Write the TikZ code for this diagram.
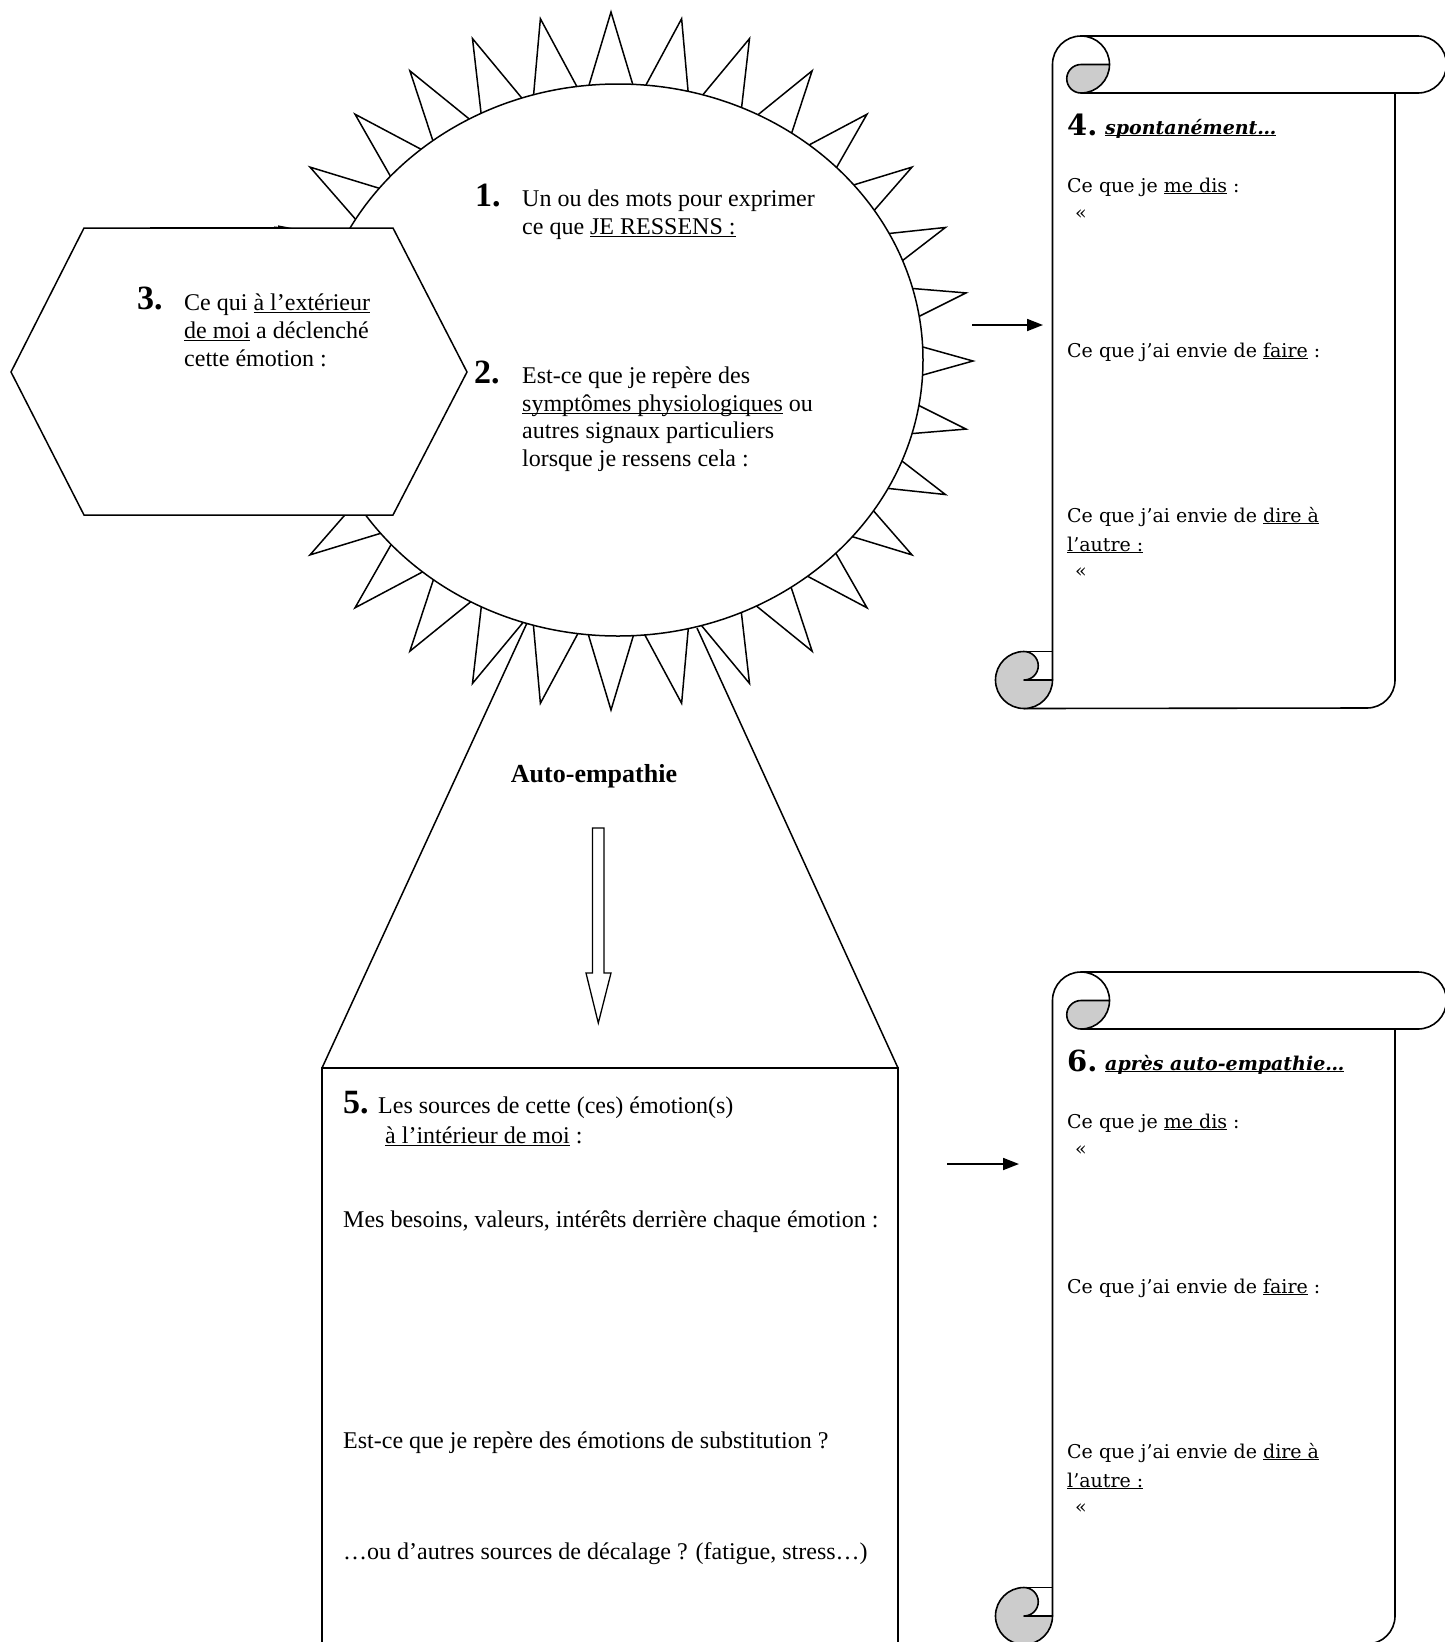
\documentclass[tikz,border=0pt]{standalone}
\usepackage{fontspec}
\setmainfont{Liberation Serif}
\newfontfamily\scrollfont{DejaVu Serif}
\usetikzlibrary{arrows.meta}
\newcommand\ulx[1]{\setbox0\hbox{#1}\rlap{\rule[-0.12em]{\wd0}{0.055em}}\box0\relax}
\newcommand\drawscroll[1]{%
\begin{scope}[shift={(0,#1)}]
  \draw[scrl] (1052.5,680) -- (1052.5,64.5) arc[start angle=180,end angle=270,radius=28.5]
     -- (1418,36) arc[start angle=270,end angle=450,radius=28.5] -- (1081,93);
  \draw[scrl,fill=black!20] (1081,64.5) -- (1109.5,64.5) arc[start angle=0,end angle=90,radius=28.5]
     arc[start angle=90,end angle=270,radius=14.25] -- cycle;
  \draw[scrl] (1081,36) arc[start angle=270,end angle=360,radius=28.5];
  \draw[scrl] (1395,93) -- (1395,680) arc[start angle=0,end angle=90,radius=28] -- (1024,708.5);
  \draw[scrl,fill=black!20] (1024,680) -- (1052.5,680) arc[start angle=0,end angle=270,radius=28.5]
     arc[start angle=270,end angle=450,radius=14.25] -- cycle;
  \draw[scrl] (1024,651.5) -- (1052.5,651.5);
\end{scope}}
\begin{document}
\begin{tikzpicture}[x=1pt,y=-1pt,
  shp/.style={draw=black,line width=1.5pt,fill=white,line join=miter},
  scrl/.style={draw=black,line width=1.6pt,line join=round},
  txt/.style={anchor=base west,inner sep=0pt,font=\fontsize{24}{28}\selectfont},
  num/.style={anchor=base west,inner sep=0pt,font=\fontsize{34}{40}\selectfont\bfseries},
  stxt/.style={anchor=base west,inner sep=0pt,font=\scrollfont\fontsize{19}{23}\selectfont},
  snum/.style={anchor=base west,inner sep=0pt,font=\scrollfont\fontsize{29}{34}\selectfont\bfseries},
  shead/.style={anchor=base west,inner sep=0pt,font=\scrollfont\fontsize{19}{23}\selectfont\bfseries\itshape},
  arr/.style={line width=1.8pt,-{Triangle[length=16pt,width=12pt]}}]
\useasboundingbox (0,0) rectangle (1444,1642);

% cone to box 5
\coordinate (tl) at (527,623);
\coordinate (tr) at (697,628);
\coordinate (bl) at (322,1068);
\coordinate (br) at (898,1068);
\draw[line width=1.5pt] (tl) -- (bl);
\draw[line width=1.5pt] (tr) -- (br);
\draw[line width=1.5pt] (322,1660) -- (bl) -- (br) -- (898,1660);

% sun
\path[shp] (611,12) \foreach \k in {0,...,31}{
   -- ({611+271.5*cos(90+\k*11.25+5.625)},{361-261.75*sin(90+\k*11.25+5.625)})
   -- ({611+362*cos(90+(\k+1)*11.25)},{361-349*sin(90+(\k+1)*11.25)}) } -- cycle;
\path[shp] (618,360) ellipse [x radius=305, y radius=276];

% hidden arrow under hexagon
\coordinate (ha1) at (150,228);
\coordinate (ha2) at (292,228);
\draw[line width=1.2pt,-{Triangle[length=14pt,width=5pt]}] (ha1) -- (ha2);

% hexagon
\path[shp] (11,372) -- (84,228) -- (393,228) -- (467,372) -- (393,515) -- (84,515) -- cycle;

% texts in sun
\node[num] (n1) at (475,206) {1.};
\node[txt] (t1a) at (522,206) {Un ou des mots pour exprimer};
\node[txt] (t1b) at (522,234) {ce que \ulx{JE RESSENS :}};
\node[num] (n2) at (474,383) {2.};
\node[txt] (t2a) at (522,383) {Est-ce que je repère des};
\node[txt] (t2b) at (522,411) {\ulx{symptômes physiologiques} ou};
\node[txt] (t2c) at (522,438.5) {autres signaux particuliers};
\node[txt] (t2d) at (522,466) {lorsque je ressens cela :};

% texts in hexagon
\node[num] (n3) at (137,309) {3.};
\node[txt] (t3a) at (184,310) {Ce qui \ulx{à l’extérieur}};
\node[txt] (t3b) at (184,338) {\ulx{de moi} a déclenché};
\node[txt] (t3c) at (184,366) {cette émotion :};

% auto-empathie
\node[anchor=base,inner sep=0pt,font=\fontsize{26}{30}\selectfont\bfseries] (ae) at (594,782) {Auto-empathie};
\path[shp,line width=1.3pt] (592.5,828) -- (604,828) -- (604,973) -- (611,973) -- (598.3,1023) -- (586,973) -- (592.5,973) -- cycle;

% box 5 texts
\node[num] (n5) at (343,1113) {5.};
\node[txt] (t5a) at (378,1113) {Les sources de cette (ces) émotion(s)};
\node[txt] (t5b) at (385,1143) {\ulx{à l’intérieur de moi} :};
\node[txt] (t5c) at (343,1227) {Mes besoins, valeurs, intérêts derrière chaque émotion :};
\node[txt] (t5d) at (343,1448) {Est-ce que je repère des émotions de substitution ?};
\node[txt] (t5e) at (343,1559) {…ou d’autres sources de décalage ? (fatigue, stress…)};

% arrows to scrolls
\coordinate (a1s) at (972,325);
\coordinate (a1e) at (1043,325);
\draw[arr] (a1s) -- (a1e);
\coordinate (a2s) at (947,1164);
\coordinate (a2e) at (1019,1164);
\draw[arr] (a2s) -- (a2e);

% scrolls
\drawscroll{0}
\drawscroll{936}

% scroll 1 texts
\node[snum] (n4) at (1067,135) {4.};
\node[shead] (h4) at (1105,134) {\ulx{spontanément…}};
\node[stxt] (s4a) at (1067,192) {Ce que je \ulx{me dis} :};
\node[stxt] (s4b) at (1075,219) {«};
\node[stxt] (s4c) at (1067,357) {Ce que j’ai envie de \ulx{faire} :};
\node[stxt] (s4d) at (1067,522) {Ce que j’ai envie de \ulx{dire à}};
\node[stxt] (s4e) at (1067,551) {\ulx{l’autre :}};
\node[stxt] (s4f) at (1075,577) {«};

% scroll 2 texts
\node[snum] (n6) at (1067,1071) {6.};
\node[shead] (h6) at (1105,1070) {\ulx{après auto-empathie…}};
\node[stxt] (s6a) at (1067,1128) {Ce que je \ulx{me dis} :};
\node[stxt] (s6b) at (1075,1155) {«};
\node[stxt] (s6c) at (1067,1293) {Ce que j’ai envie de \ulx{faire} :};
\node[stxt] (s6d) at (1067,1458) {Ce que j’ai envie de \ulx{dire à}};
\node[stxt] (s6e) at (1067,1487) {\ulx{l’autre :}};
\node[stxt] (s6f) at (1075,1513) {«};
\end{tikzpicture}
\end{document}
